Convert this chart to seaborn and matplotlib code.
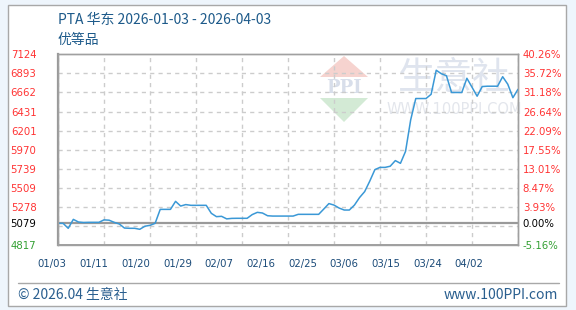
import numpy as np
import pandas as pd
import matplotlib
matplotlib.use("Agg")
import matplotlib.pyplot as plt
import matplotlib.transforms as mtransforms
from matplotlib.patches import Rectangle, Polygon
from matplotlib.lines import Line2D
import seaborn as sns

# ---------------- data ----------------
dates = pd.date_range("2026-01-03", "2026-04-03", freq="D")
prices = [5079, 5079, 5019, 5127, 5095, 5089, 5091, 5091, 5091, 5121,
          5117, 5091, 5071, 5022, 5019, 5019, 5007, 5044, 5055, 5079,
          5248, 5248, 5248, 5345, 5288, 5306, 5297, 5297, 5297, 5297,
          5200, 5160, 5164, 5133, 5139, 5140, 5140, 5140, 5185, 5212,
          5204, 5171, 5167, 5167, 5167, 5167, 5167, 5188, 5188, 5188,
          5188, 5188, 5252, 5318, 5300, 5264, 5240, 5240, 5300, 5391,
          5463, 5590, 5729, 5756, 5756, 5770, 5838, 5805, 5950, 6330,
          6589, 6589, 6589, 6640, 6931, 6889, 6865, 6662, 6662, 6662,
          6834, 6726, 6617, 6734, 6738, 6738, 6738, 6853, 6762, 6599,
          6701]
base_price = 5079
y_min, y_max = 4817, 7124
left_tick_values = [7124, 6893, 6662, 6431, 6201, 5970, 5739, 5509, 5278, 5079, 4817]
left_tick_labels = ["7124", "6893", "6662", "6431", "6201", "5970", "5739",
                    "5509", "5278", "5079", "4817"]
right_tick_labels = ["40.26%", "35.72%", "31.18%", "26.64%", "22.09%", "17.55%",
                     "13.01%", "8.47%", "3.93%", "0.00%", "-5.16%"]
x_labels = ["01/03", "01/11", "01/20", "01/29", "02/07", "02/16",
            "02/25", "03/06", "03/15", "03/24", "04/02"]
title_text = "PTA 华东 2026-01-03 - 2026-04-03"
subtitle_text = "优等品"

df = pd.DataFrame({"day": np.arange(len(prices)), "price": prices, "date": dates})

# ---------------- style ----------------
sns.set_style("white")
plt.rcParams["font.family"] = ["DejaVu Sans"]
CJK = ["Noto Sans CJK SC", "DejaVu Sans"]

W, H = 576, 310
fig = plt.figure(figsize=(W / 100, H / 100), dpi=100)
fig.patch.set_facecolor("#eef5fc")

def fx(px):
    return px / W
def fy(py):
    return 1 - py / H

# white panel (behind everything)
fig.patches.append(Rectangle((fx(8), fy(306)), 558 / W, 301 / H,
                             transform=fig.transFigure, facecolor="white",
                             edgecolor="#a8a8a8", lw=1.0, zorder=-3))

ax_l, ax_r, ax_t, ax_b = 58, 518, 54.3, 245
ax = fig.add_axes([ax_l / W, 1 - ax_b / H, (ax_r - ax_l) / W, (ax_b - ax_t) / H])
ax.patch.set_alpha(0)

# watermark (logo + text), drawn beneath the transparent axes
fig.patches.append(Polygon([(fx(320), fy(77)), (fx(368), fy(77)), (fx(344), fy(56))],
                           closed=True, transform=fig.transFigure,
                           facecolor="#f6d3cf", edgecolor="none", zorder=-2))
fig.patches.append(Polygon([(fx(320), fy(98)), (fx(368), fy(98)), (fx(344), fy(122))],
                           closed=True, transform=fig.transFigure,
                           facecolor="#d3ead5", edgecolor="none", zorder=-2))
fig.text(fx(344), fy(88), "PPI", ha="center", va="center", fontsize=13,
         fontweight="bold", family="DejaVu Serif", color="#d8deea", zorder=-2)
fig.text(fx(454), fy(78), "生意社", ha="center", va="center", fontsize=27,
         family=CJK, color="#dfe4ee", zorder=-2)
fig.text(fx(454), fy(110), "WWW.100PPI.COM", ha="center", va="center", fontsize=10.5,
         color="#e3e6ec", zorder=-2)

# line
sns.lineplot(data=df, x="day", y="price", ax=ax, color="#3a98d6", lw=1.1, zorder=3)

ax.set_xlim(0, len(prices) - 1)
ax.set_ylim(y_min, y_max)
ax.set_xlabel("")
ax.set_ylabel("")

# gridlines (minor ticks)
step = (y_max - y_min) / 10
ax.set_yticks([y_max - step * k for k in range(1, 10)], minor=True)
ax.set_xticks(np.linspace(0, len(prices) - 1, 11), minor=True)
ax.grid(which="minor", color="#cccccc", linestyle=(0, (3, 3)), lw=1.0)
ax.grid(which="major", visible=False)
ax.tick_params(which="both", length=0)
ax.axhline(base_price, color="#999999", lw=1.6, zorder=2)

def col(v):
    if v > base_price:
        return "#ff3333"
    if v < base_price:
        return "#33a033"
    return "#000000"

ax.set_yticks(left_tick_values)
ax.set_yticklabels(left_tick_labels, fontsize=7.3, family="DejaVu Sans")
for lab, v in zip(ax.get_yticklabels(), left_tick_values):
    lab.set_color(col(v))
ax.tick_params(axis="y", which="major", pad=15.5)

ax2 = ax.twinx()
ax2.set_ylim(y_min, y_max)
ax2.set_yticks(left_tick_values)
ax2.set_yticklabels(right_tick_labels, fontsize=7.3, family="DejaVu Sans")
for lab, v in zip(ax2.get_yticklabels(), left_tick_values):
    lab.set_color(col(v))
ax2.tick_params(axis="y", length=0, pad=3.5)
ax2.grid(False)

ax.set_xticks([])
trans = mtransforms.blended_transform_factory(ax.transData, ax.transAxes)
px_per_day = (ax_r - ax_l) / (len(prices) - 1)
for k, lab in enumerate(x_labels):
    xpx = 52.3 + 41.7 * k
    ax.text((xpx - ax_l) / px_per_day, -(263.6 - ax_b) / (ax_b - ax_t), lab,
            transform=trans, ha="center", va="center", fontsize=7.3,
            color="#1a4a78")

for a in (ax, ax2):
    for s in a.spines.values():
        s.set_color("#a0a0a0")
        s.set_linewidth(1.0)
ax.spines["left"].set_linewidth(1.6)
ax.spines["left"].set_color("#999999")
ax.spines["bottom"].set_linewidth(1.4)

# titles
fig.text(fx(58), fy(20), title_text, ha="left", va="center", fontsize=10,
         family=CJK, color="#1d5a8a")
fig.text(fx(58), fy(40), subtitle_text, ha="left", va="center", fontsize=10,
         family=CJK, color="#1d5a8a")

# footer
fig.add_artist(Line2D([fx(18), fx(559)], [fy(283), fy(283)], transform=fig.transFigure,
                      color="#a8a8a8", lw=1.0))
fig.text(fx(18), fy(295), "© 2026.04 生意社", ha="left", va="center", fontsize=10,
         family=CJK, color="#2a5f8f")
fig.text(fx(558), fy(295), "www.100PPI.com", ha="right", va="center", fontsize=10,
         family=CJK, color="#2a5f8f")

fig.savefig("out.png", dpi=100, facecolor=fig.get_facecolor())
